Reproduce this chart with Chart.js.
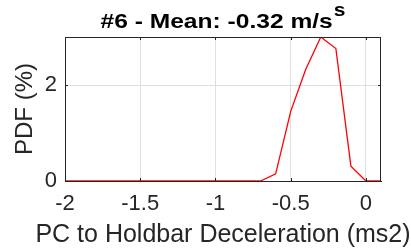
<!DOCTYPE html>
<html>
<head>
<meta charset="utf-8">
<script src="https://cdn.jsdelivr.net/npm/chart.js@4.4.1/dist/chart.umd.min.js"></script>
<style>
  html, body { margin: 0; padding: 0; background: #fff; }
  #wrap { width: 411px; height: 252px; }
</style>
</head>
<body>
<div id="wrap"><canvas id="c" width="411" height="252"></canvas></div>
<script>
const titleMain = "#6 - Mean: -0.32 m/s";
const titleSup = "s";
const xLabel = "PC to Holdbar Deceleration (ms2)";
const yLabel = "PDF (%)";
const xValues = [-2.0, -1.9, -1.8, -1.7, -1.6, -1.5, -1.4, -1.3, -1.2, -1.1, -1.0, -0.9, -0.8, -0.7, -0.6, -0.5, -0.4, -0.3, -0.2, -0.1, 0.0, 0.1];
const pdfValues = [0, 0, 0, 0, 0, 0, 0, 0, 0, 0, 0, 0, 0, 0, 0.15, 1.45, 2.33, 3.0, 2.76, 0.31, 0, 0];
const xTicks = [-2, -1.5, -1, -0.5, 0];
const yTicks = [0, 2];
const xRange = [-2, 0.1];
const yRange = [0, 3.0];

const FONT = "'Liberation Sans', Arial, Helvetica, sans-serif";
const AX = '#262626';

const boxPlugin = {
  id: 'box',
  afterDraw(chart) {
    const ctx = chart.ctx, a = chart.chartArea;
    const xs = chart.scales.x, ys = chart.scales.y;
    ctx.save();
    ctx.strokeStyle = AX;
    ctx.lineWidth = 1;
    ctx.beginPath();
    ctx.moveTo(a.left, a.top + 0.5); ctx.lineTo(a.right, a.top + 0.5);
    ctx.moveTo(a.right - 0.5, a.top); ctx.lineTo(a.right - 0.5, a.bottom);
    const L = 3;
    xTicks.forEach(v => {
      const px = Math.round(xs.getPixelForValue(v)) + 0.5;
      ctx.moveTo(px, a.bottom); ctx.lineTo(px, a.bottom - L);
      ctx.moveTo(px, a.top); ctx.lineTo(px, a.top + L);
    });
    yTicks.forEach(v => {
      const py = Math.round(ys.getPixelForValue(v)) + 0.5;
      ctx.moveTo(a.left, py); ctx.lineTo(a.left + L, py);
      ctx.moveTo(a.right, py); ctx.lineTo(a.right - L, py);
    });
    ctx.stroke();

    const cx = (a.left + a.right) / 2;

    // x axis label
    ctx.font = "25px " + FONT;
    ctx.fillStyle = AX;
    ctx.textAlign = 'center';
    ctx.textBaseline = 'alphabetic';
    ctx.fillText(xLabel, cx, 242);

    // title with superscript (glyphs drawn slightly wide, like the reference)
    const sx = 1.17;
    const mainFont = "bold 21px " + FONT;
    const supFont = "bold 18px " + FONT;
    ctx.font = mainFont;
    const w1 = ctx.measureText(titleMain).width * sx;
    ctx.font = supFont;
    const w2 = ctx.measureText(titleSup).width * sx;
    const x0 = cx - (w1 + w2 + 1) / 2;
    ctx.fillStyle = '#000';
    ctx.textAlign = 'left';
    ctx.save();
    ctx.translate(x0, 0);
    ctx.scale(sx, 1);
    ctx.font = mainFont;
    ctx.fillText(titleMain, 0, 28);
    ctx.font = supFont;
    ctx.fillText(titleSup, (w1 + 1) / sx, 15.5);
    ctx.restore();
    ctx.restore();
  }
};

new Chart(document.getElementById('c'), {
  type: 'line',
  data: {
    datasets: [{
      data: xValues.map((x, i) => ({ x: x, y: pdfValues[i] })),
      borderColor: '#ff0000',
      borderWidth: 1.3,
      pointRadius: 0,
      tension: 0,
      fill: false
    }]
  },
  options: {
    responsive: false,
    animation: false,
    devicePixelRatio: 1,
    layout: { padding: { top: 37, right: 30, left: 0, bottom: 0 } },
    plugins: { legend: { display: false }, tooltip: { enabled: false }, title: { display: false } },
    scales: {
      x: {
        type: 'linear',
        min: xRange[0], max: xRange[1],
        afterBuildTicks: s => { s.ticks = xTicks.map(v => ({ value: v })); },
        afterFit: s => { s.height = 71; },
        grid: { color: '#dfdfdf', drawTicks: false, lineWidth: 1 },
        border: { display: true, color: AX, width: 1 },
        ticks: {
          padding: 10, color: AX, maxRotation: 0, autoSkip: false,
          font: { family: FONT, size: 22 },
          callback: v => String(v)
        },
        title: { display: false }
      },
      y: {
        min: yRange[0], max: yRange[1],
        afterBuildTicks: s => { s.ticks = yTicks.map(v => ({ value: v })); },
        afterFit: s => { s.width = 65; },
        grid: { color: '#dfdfdf', drawTicks: false, lineWidth: 1 },
        border: { display: true, color: AX, width: 1 },
        ticks: {
          padding: 8, color: AX, autoSkip: false,
          font: { family: FONT, size: 22 },
          callback: v => String(v)
        },
        title: { display: true, text: yLabel, color: AX, font: { family: FONT, size: 24 }, padding: { top: 11, bottom: 0 } }
      }
    }
  },
  plugins: [boxPlugin]
});
</script>
</body>
</html>
